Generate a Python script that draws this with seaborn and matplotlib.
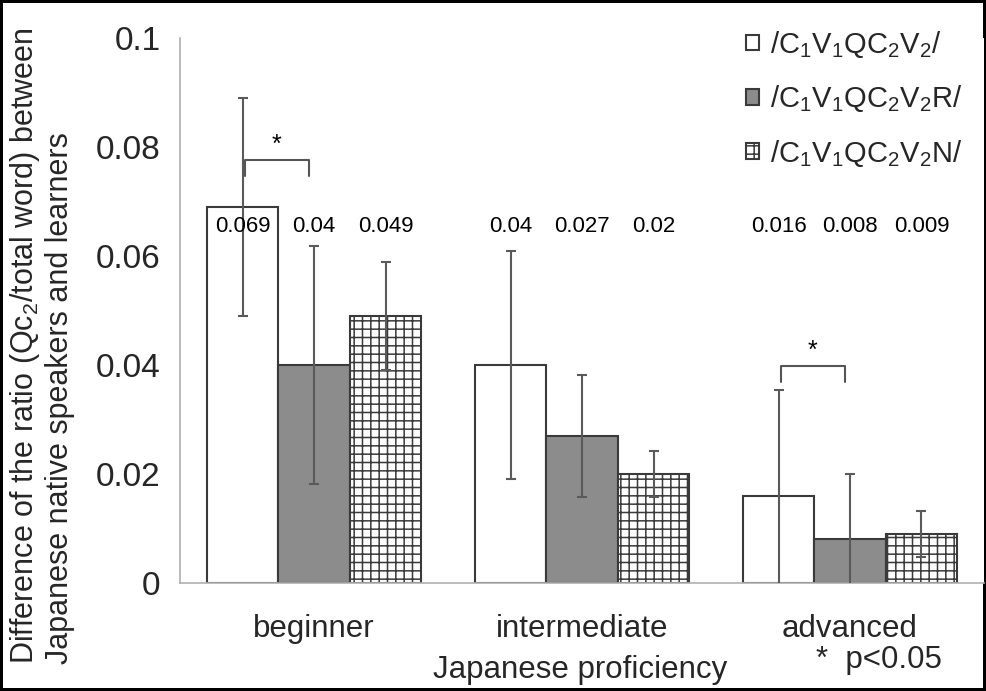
import matplotlib
matplotlib.use("Agg")
import matplotlib.pyplot as plt
import seaborn as sns
import pandas as pd

# Proficiency groups and the three word patterns
levels = ["beginner", "intermediate", "advanced"]
patterns = [r"/C$_1$V$_1$QC$_2$V$_2$/",
            r"/C$_1$V$_1$QC$_2$V$_2$R/",
            r"/C$_1$V$_1$QC$_2$V$_2$N/"]

# Mean difference per pattern (one list per pattern, ordered by level)
plain_vals = [0.069, 0.040, 0.016]
r_vals = [0.040, 0.027, 0.008]
n_vals = [0.049, 0.020, 0.009]

# Error bar half-lengths
plain_err = [0.020, 0.021, 0.0195]
r_err = [0.0218, 0.0112, 0.012]
n_err = [0.0099, 0.0043, 0.0042]

# Significant pairs: (level index, pattern a, pattern b)
sig_pairs = [(0, 0, 1), (2, 0, 1)]
sig_heights = [0.0776, 0.0398]

values = [plain_vals, r_vals, n_vals]
errors = [plain_err, r_err, n_err]

rows = []
for p, vals in zip(patterns, values):
    for lev, v in zip(levels, vals):
        rows.append({"level": lev, "pattern": p, "value": v})
df = pd.DataFrame(rows)

sns.set_style("white")
plt.rcParams["font.family"] = ["Liberation Sans", "DejaVu Sans"]
plt.rcParams["mathtext.fontset"] = "custom"
plt.rcParams["mathtext.rm"] = "Liberation Sans"
plt.rcParams["mathtext.it"] = "Liberation Sans"
plt.rcParams["hatch.linewidth"] = 1.1
plt.rcParams["hatch.color"] = "black"

fig = plt.figure(figsize=(9.86, 6.91), dpi=100)
ax = fig.add_axes([0.1826, 0.1563, 0.8154, 0.7887])

edge = "#3a3a3a"
sns.barplot(data=df, x="level", y="value", hue="pattern",
            order=levels, hue_order=patterns,
            palette=["white", "#8c8c8c", "white"],
            edgecolor=edge, linewidth=1.5, errorbar=None,
            width=0.8, legend=False, ax=ax)

bar_groups = list(ax.containers)
hatches = [None, None, "++"]
for cont, h, errs in zip(bar_groups, hatches, errors):
    xs = []
    ys = []
    for bar in cont.patches:
        if h:
            bar.set_hatch(h)
        xs.append(bar.get_x() + bar.get_width() / 2)
        ys.append(bar.get_height())
    ax.errorbar(xs, ys, yerr=errs, fmt="none", ecolor="#5a5a5a",
                elinewidth=1.5, capsize=3.5, capthick=1.5, zorder=3)
    for x, y in zip(xs, ys):
        ax.text(x, 0.0655, f"{y:g}", ha="center", va="center",
                fontsize=16, color="black", zorder=4)

# Significance brackets between bars
for (li, a, b), hgt in zip(sig_pairs, sig_heights):
    ba = bar_groups[a].patches[li]
    bb = bar_groups[b].patches[li]
    xa = ba.get_x() + ba.get_width() / 2 + 0.01
    xb = bb.get_x() + bb.get_width() / 2 - 0.02
    leg = 0.003
    ax.plot([xa, xa, xb, xb], [hgt - leg, hgt, hgt, hgt - leg],
            color="#555555", lw=1.5, zorder=4)
    ax.text((xa + xb) / 2, hgt + 0.0006, "*", ha="center", va="bottom",
            fontsize=18, color="black")

ax.set_ylim(0, 0.1)
ax.set_xlim(-0.5, 2.5)
ax.set_yticks([0, 0.02, 0.04, 0.06, 0.08, 0.1])
ax.set_yticklabels(["0", "0.02", "0.04", "0.06", "0.08", "0.1"])
ax.tick_params(axis="y", length=0, labelsize=24, pad=14)
ax.tick_params(axis="x", length=0, labelsize=22.5, pad=22)
ax.set_xlabel("")
ax.set_ylabel("")

for s in ["top", "right"]:
    ax.spines[s].set_visible(False)
for s in ["left", "bottom"]:
    ax.spines[s].set_color("#b0b0b0")
    ax.spines[s].set_linewidth(1.2)

# Legend with small square handles
handles = [cont.patches[0] for cont in bar_groups]
fig.legend(handles, patterns, loc="upper right",
           bbox_to_anchor=(962 / 986, 1 - 29 / 691),
           frameon=False, fontsize=21, handlelength=0.45, handleheight=0.45,
           handletextpad=0.35, labelspacing=0.8, borderaxespad=0.0,
           borderpad=0.0)

fig.text(0.008, 0.50,
         "Difference of the ratio (Qc$_2$/total word) between\n"
         "Japanese native speakers and learners",
         rotation=90, ha="left", va="center", fontsize=22,
         linespacing=1.15)
fig.text(580 / 986, 1 - 670 / 691, "Japanese proficiency", ha="center",
         va="center", fontsize=22.5)
fig.text(879 / 986, 1 - 660 / 691, "*  p<0.05", ha="center", va="center",
         fontsize=22.5)

fig.patch.set_edgecolor("black")
fig.patch.set_linewidth(3)

fig.savefig("out.png", dpi=100, edgecolor=fig.get_edgecolor())
